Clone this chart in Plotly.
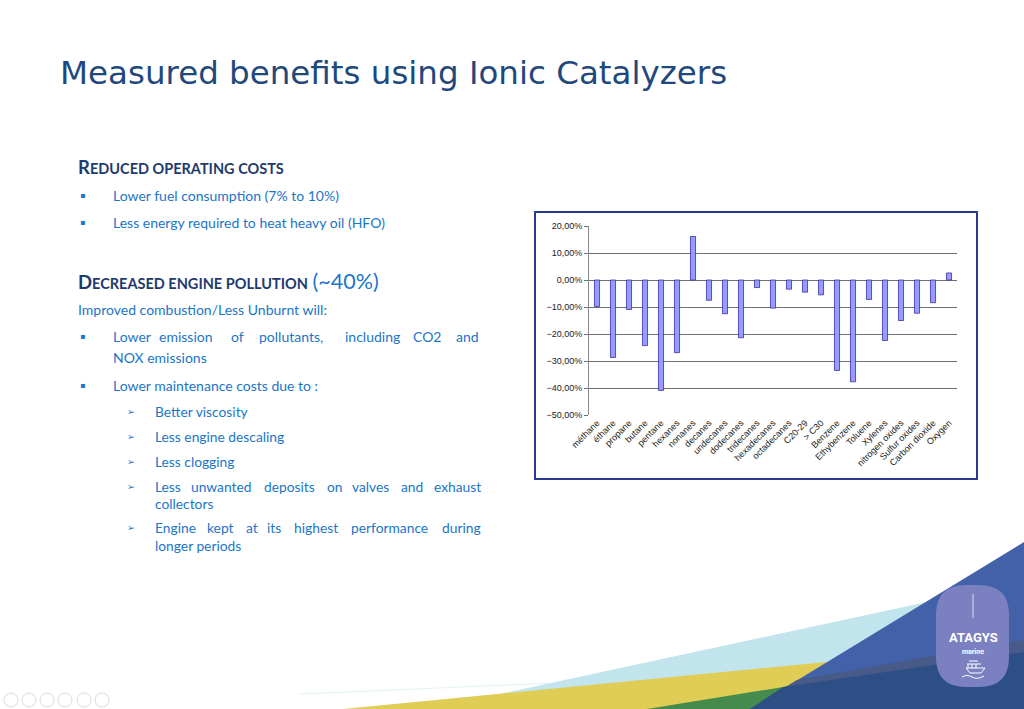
import plotly.graph_objects as go

# chart data
compounds = ["méthane", "éthane", "propane", "butane", "pentane", "hexanes", "nonanes",
             "decanes", "undecanes", "dodecanes", "tridecanes", "hexadecanes", "octadecanes",
             "C20-29", "> C30", "Benzene", "Ethybenzene", "Toluene", "Xylenes",
             "nitrogen oxides", "Sulfur oxides", "Carbon dioxide", "Oxygen"]
change = [-0.098, -0.287, -0.109, -0.243, -0.409, -0.269, 0.161,
          -0.075, -0.125, -0.214, -0.028, -0.104, -0.034,
          -0.045, -0.055, -0.335, -0.377, -0.072, -0.224,
          -0.150, -0.123, -0.084, 0.026]
y_ticks = [0.2, 0.1, 0.0, -0.1, -0.2, -0.3, -0.4, -0.5]

W, H = 1024, 709


def px(x):
    return x / W


def py(y):
    return 1 - y / H


NAVY = "#1f3a6e"
BLUE = "#1b75c9"
TITLE = "#1f497d"

fig = go.Figure()
fig.add_trace(go.Bar(
    x=compounds, y=change,
    marker=dict(color="#9999ff", line=dict(color="#333399", width=0.8)),
    hoverinfo="x+y",
))

# plot area on the slide
x0, x1 = px(589), px(957)
y0, y1 = py(415), py(226)
ymin, ymax = -0.5, 0.2
zero_pos = y0 + (0 - ymin) / (ymax - ymin) * (y1 - y0)

axis_font = dict(family="Liberation Sans, Arial", size=9, color="#1a1a1a")

fig.update_layout(
    width=W, height=H,
    margin=dict(l=0, r=0, t=0, b=0, autoexpand=False),
    paper_bgcolor="white",
    plot_bgcolor="#c0c0c0",
    showlegend=False,
    bargap=0.68,
    separators=", ",
    xaxis=dict(domain=[x0, x1], tickangle=-45, tickfont=axis_font, automargin=False,
               showgrid=False, ticks="", showline=False, fixedrange=True),
    yaxis=dict(domain=[y0, y1], range=[ymin, ymax], tickvals=y_ticks, automargin=False,
               tickformat=".2%", tickfont=axis_font, showgrid=True,
               gridcolor="#707070", gridwidth=1, zeroline=True,
               zerolinecolor="#707070", zerolinewidth=1,
               ticks="outside", ticklen=4, tickcolor="#707070",
               showline=True, linecolor="#8a8a8a", linewidth=1),
    # tick marks crossing the zero line between categories
    xaxis2=dict(overlaying="x", anchor="free", position=zero_pos, domain=[x0, x1],
                range=[-0.5, len(compounds) - 0.5], automargin=False,
                tickvals=[i - 0.5 for i in range(len(compounds) + 1)],
                showticklabels=False, ticks="outside", ticklen=3,
                tickcolor="#707070", showgrid=False, zeroline=False, showline=False),
    xaxis3=dict(overlaying="x", anchor="free", position=zero_pos, domain=[x0, x1],
                range=[-0.5, len(compounds) - 0.5], automargin=False,
                tickvals=[i - 0.5 for i in range(len(compounds) + 1)],
                showticklabels=False, ticks="inside", ticklen=3,
                tickcolor="#707070", showgrid=False, zeroline=False, showline=False),
)

shapes = []
# chart frame
shapes.append(dict(type="rect", xref="paper", yref="paper", layer="below",
                   x0=px(535), x1=px(977), y0=py(479), y1=py(212),
                   fillcolor="white", line=dict(color="#2b3990", width=2)))


def poly(points, color):
    d = "M " + " L ".join(f"{px(a):.5f},{py(b):.5f}" for a, b in points) + " Z"
    return dict(type="path", xref="paper", yref="paper", layer="below", path=d,
                fillcolor=color, line=dict(width=0))


# decorative bands at the bottom right
shapes.append(dict(type="line", xref="paper", yref="paper", layer="below",
                   x0=px(300), y0=py(694), x1=px(600), y1=py(681),
                   line=dict(color="#e3f2f6", width=1)))
shapes.append(poly([(430, 709), (927, 602), (1024, 583), (1024, 709)], "#c2e4ed"))
shapes.append(poly([(343, 709), (827, 662), (1024, 640), (1024, 709)], "#e0cd55"))
shapes.append(poly([(647, 709), (783, 687), (1024, 652), (1024, 709)], "#458b4d"))
shapes.append(poly([(750, 709), (1024, 542), (1024, 709)], "#4361a8"))
shapes.append(poly([(797, 680), (1024, 640), (1024, 709), (750, 709)], "#485a87"))
shapes.append(poly([(783, 687), (1024, 652), (1024, 709), (750, 709)], "#2e4e86"))

# logo pill
lx0, lx1, ly0, ly1 = 936, 1009, 585, 687
r = 30
pill = (f"M {px(lx0 + r):.5f},{py(ly0):.5f} L {px(lx1 - r):.5f},{py(ly0):.5f} "
        f"Q {px(lx1):.5f},{py(ly0):.5f} {px(lx1):.5f},{py(ly0 + r):.5f} "
        f"L {px(lx1):.5f},{py(ly1 - r):.5f} "
        f"Q {px(lx1):.5f},{py(ly1):.5f} {px(lx1 - r):.5f},{py(ly1):.5f} "
        f"L {px(lx0 + r):.5f},{py(ly1):.5f} "
        f"Q {px(lx0):.5f},{py(ly1):.5f} {px(lx0):.5f},{py(ly1 - r):.5f} "
        f"L {px(lx0):.5f},{py(ly0 + r):.5f} "
        f"Q {px(lx0):.5f},{py(ly0):.5f} {px(lx0 + r):.5f},{py(ly0):.5f} Z")
shapes.append(dict(type="path", xref="paper", yref="paper", path=pill,
                   fillcolor="#7b80c0", line=dict(width=0)))
shapes.append(dict(type="line", xref="paper", yref="paper",
                   x0=px(973), x1=px(973), y0=py(594), y1=py(618),
                   line=dict(color="#d8daf0", width=1)))
# little ship icon
for (a, b, c, d) in [(967, 664, 981, 664), (966, 668, 985, 668), (968, 664, 968, 668),
                     (972, 664, 972, 668), (976, 664, 976, 668), (969, 661, 978, 661),
                     (966, 668, 970, 673), (985, 668, 981, 673), (970, 673, 981, 673)]:
    shapes.append(dict(type="line", xref="paper", yref="paper",
                       x0=px(a), y0=py(b), x1=px(c), y1=py(d),
                       line=dict(color="white", width=1)))
shapes.append(dict(type="path", xref="paper", yref="paper",
                   path=f"M {px(962):.5f},{py(677):.5f} Q {px(967):.5f},{py(674):.5f} "
                        f"{px(972):.5f},{py(677):.5f} Q {px(977):.5f},{py(680):.5f} "
                        f"{px(984):.5f},{py(676):.5f}",
                   line=dict(color="white", width=1)))

# slideshow controls, bottom left
for cx in [11, 29, 47, 65, 84, 102]:
    shapes.append(dict(type="circle", xref="paper", yref="paper",
                       x0=px(cx - 7), x1=px(cx + 7), y0=py(707), y1=py(693),
                       line=dict(color="#dcdcdc", width=1)))

fig.update_layout(shapes=shapes)

ann = []


def text(x, y, s, size, color, family="Lato", anchor="left"):
    ann.append(dict(x=px(x), y=py(y), xref="paper", yref="paper", text=s,
                    showarrow=False, xanchor=anchor, yanchor="middle",
                    font=dict(size=size, color=color, family=family)))


def justified(y, words, starts, size):
    # justified paragraph line: each word at its own start
    for w, x in zip(words, starts):
        text(x, y, w, size, BLUE)


text(58, 73, "Measured benefits using Ionic Catalyzers", 32.5, TITLE, family="DejaVu Sans")


def small_caps(first, rest):
    return f"<b>{first}<span style='font-size:14.5px'>{rest}</span></b>"


text(76, 167, small_caps("R", "EDUCED OPERATING COSTS"), 18.5, NAVY)
text(76, 281, small_caps("D", "ECREASED ENGINE POLLUTION") +
     f" <span style='font-size:21.5px;color:{BLUE}'>(~40%)</span>", 18.5, NAVY)

MAIN, SUB = 14, 13.8

for y in [195, 223, 337, 385]:
    text(78, y, "▪", 8, BLUE, family="DejaVu Sans")
text(111, 195, "Lower fuel consumption (7% to 10%)", MAIN, BLUE)
text(111, 223, "Less energy required to heat heavy oil (HFO)", MAIN, BLUE)
justified(337, "Lower emission of pollutants, including CO2 and".split(),
          [111, 157, 229, 257, 343, 411, 454], MAIN)
text(111, 357, "NOX emissions", MAIN, BLUE)
text(111, 385, "Lower maintenance costs due to :", MAIN, BLUE)
text(76, 309, "Improved combustion/Less Unburnt will:", MAIN, BLUE)

for y in [411, 436, 461, 486, 527]:
    text(125, y, "➢", 9.5, BLUE, family="DejaVu Sans")
text(153, 411, "Better viscosity", SUB, BLUE)
text(153, 436, "Less engine descaling", SUB, BLUE)
text(153, 461, "Less clogging", SUB, BLUE)
justified(486, "Less unwanted deposits on valves and exhaust".split(),
          [153, 189, 262, 325, 350, 399, 432], SUB)
text(153, 503, "collectors", SUB, BLUE)
justified(527, "Engine kept at its highest performance during".split(),
          [153, 205, 244, 265, 292, 349, 440], SUB)
text(153, 545, "longer periods", SUB, BLUE)

# logo text
text(973, 637, "<b>ATAGYS</b>", 13, "white", family="Roboto", anchor="center")
text(973, 652, "<b>marine</b>", 7, "white", family="Roboto", anchor="center")

fig.update_layout(annotations=ann)

fig.write_html("out.html", config={"displayModeBar": False},
               post_script="document.body.style.margin='0';")
